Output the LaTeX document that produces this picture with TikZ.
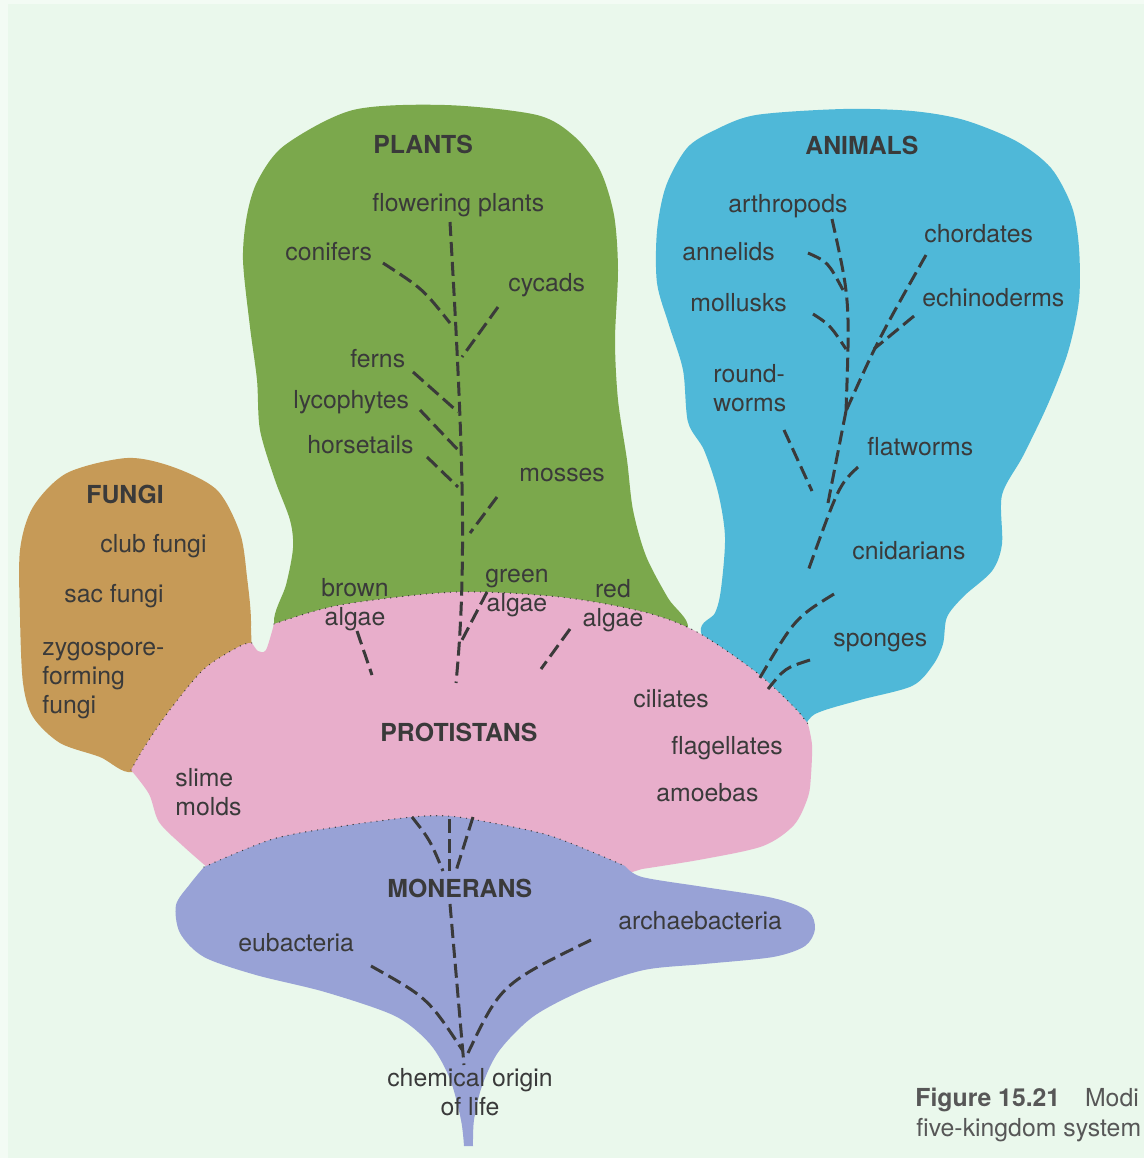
\documentclass[tikz,border=0pt]{standalone}
\usepackage{fontspec}
\setmainfont{TeX Gyre Heros}
\definecolor{bgmint}{HTML}{EAF8EC}
\definecolor{paperedge}{HTML}{F3FBF4}
\definecolor{ink}{HTML}{3A3A3A}
\definecolor{plantgreen}{HTML}{7BA84C}
\definecolor{animalblue}{HTML}{4FB8D8}
\definecolor{fungibrown}{HTML}{C69A57}
\definecolor{protpink}{HTML}{E8AECB}
\definecolor{monblue}{HTML}{98A2D6}
\tikzset{
  lbl/.style={inner sep=0pt, anchor=base west, text=ink, font=\fontsize{12.4pt}{14.5pt}\selectfont},
  kingdom/.style={lbl, font=\fontsize{12.4pt}{14.5pt}\selectfont\bfseries},
  branch/.style={draw=ink, line width=1.5pt, dash pattern=on 7pt off 3pt},
  border/.style={draw=ink, line width=0.7pt, line cap=round, dash pattern=on 0pt off 3pt},
}
\begin{document}
\begin{tikzpicture}[x=0.5pt,y=-0.5pt]
  % page
  \fill[bgmint] (0,0) rectangle (1144,1158);
  \fill[paperedge] (0,0) rectangle (8,1158);
  \fill[paperedge] (0,0) rectangle (1144,4);
  \useasboundingbox (0,0) rectangle (1144,1158);

  % Plants
  \fill[plantgreen] plot[smooth cycle] coordinates {(353,110) (445,105) (537,115) (575,137) (600,170) (614,215) (618,270) (615,340) (618,400) (627,460) (633,510) (646,556) (668,598) (688,628) (660,670) (450,670) (290,665) (274,622) (286,585) (293,548) (290,520) (275,480) (260,430) (257,380) (250,327) (243,260) (247,215) (258,180) (285,145)};

  % Animals
  \fill[animalblue] plot[smooth cycle] coordinates {(715,130) (756,115) (843,109) (912,111) (964,120) (1016,141) (1051,168) (1072,207) (1079,248) (1079,300) (1068,352) (1048,404) (1023,456) (1002,495) (1002,544) (992,571) (964,596) (947,617) (943,644) (933,665) (912,686) (860,700) (815,714) (790,735) (730,690) (701,632) (715,613) (721,589) (725,537) (718,492) (704,450) (688,422) (683,370) (669,325) (657,283) (657,231) (666,186) (687,148)};

  % Fungi
  \fill[fungibrown] plot[smooth cycle] coordinates {(127,458) (173,467) (217,490) (240,533) (247,577) (251,625) (245,680) (180,740) (133,772) (100,757) (60,743) (33,717) (23,683) (20,617) (20,550) (33,507) (67,473)};

  % Protistans
  \fill[protpink] plot[smooth] coordinates {(131,770) (145,746) (169,711) (204,669) (240,646) (252,643)}
    -- plot[smooth] coordinates {(252,643) (258,651) (266,650) (274,624)}
    -- plot[smooth] coordinates {(274,624) (340,605) (455,592) (560,597) (644,612) (697,632) (756,672) (794,707) (808,724)}
    -- plot[smooth] coordinates {(808,724) (812,745) (811,775) (808,797) (794,825) (763,846) (704,859) (642,869)}
    -- (590,885) -- (260,885) -- (215,874)
    -- plot[smooth] coordinates {(215,874) (183,846) (159,822) (149,794) (131,770)} -- cycle;

  % Monerans
  \fill[monblue] plot[smooth] coordinates {(204,867) (273,839) (343,826) (412,817) (447,816) (482,821) (551,836) (625,866)}
    -- plot[smooth] coordinates {(625,866) (642,877) (704,887) (773,898) (808,911) (815,929) (805,946) (773,957) (704,964) (644,970) (586,989) (534,1016) (499,1051) (482,1086) (474,1120) (473,1146)}
    -- (464,1146)
    -- plot[smooth] coordinates {(464,1146) (461,1120) (450,1079) (430,1044) (395,1016) (325,992) (256,975) (204,957) (180,933) (176,905) (190,884) (204,867)} -- cycle;

  % dotted borders
  \draw[border] plot[smooth] coordinates {(131,770) (145,746) (169,711) (204,669) (240,646) (252,643)};
  \draw[border] plot[smooth] coordinates {(274,624) (340,605) (455,592) (560,597) (644,612) (697,632) (756,672) (794,707) (808,724)};
  \draw[border] plot[smooth] coordinates {(204,867) (273,839) (343,826) (412,817) (447,816) (482,821) (551,836) (625,866)};

  % branch points
  \coordinate (pl-top) at (450,222);
  \coordinate (pl-bot) at (456,683);
  \coordinate (con-a) at (383,263);  \coordinate (con-b) at (450,323);
  \coordinate (cyc-a) at (498,307);  \coordinate (cyc-b) at (462,357);
  \coordinate (fer-a) at (413,372);  \coordinate (fer-b) at (458,412);
  \coordinate (lyc-a) at (420,410);  \coordinate (lyc-b) at (460,452);
  \coordinate (hor-a) at (427,457);  \coordinate (hor-b) at (458,487);
  \coordinate (mos-a) at (497,497);  \coordinate (mos-b) at (470,533);
  \coordinate (gal-a) at (487,592);  \coordinate (gal-b) at (462,640);
  \coordinate (bal-a) at (357,631);  \coordinate (bal-b) at (372,675);
  \coordinate (ral-a) at (570,629);  \coordinate (ral-b) at (541,669);
  \coordinate (art-a) at (832,219);  \coordinate (an-join) at (846,411);
  \coordinate (ann-a) at (808,253);  \coordinate (ann-b) at (843,290);
  \coordinate (mol-a) at (813,314);  \coordinate (mol-b) at (846,349);
  \coordinate (cho-a) at (926,255);
  \coordinate (ech-a) at (914,316);  \coordinate (ech-b) at (874,349);
  \coordinate (rnd-a) at (784,430);  \coordinate (rnd-b) at (812,491);
  \coordinate (an-low) at (828,503);
  \coordinate (fla-a) at (858,467);  \coordinate (cni-b) at (808,571);
  \coordinate (spo-a) at (834,594);  \coordinate (spo-b) at (758,681);
  \coordinate (spl-a) at (810,660);  \coordinate (spl-b) at (768,689);
  \coordinate (mo-la) at (412,817);  \coordinate (mo-lb) at (443,871);
  \coordinate (mo-ma) at (449,819);  \coordinate (mo-mb) at (449,871);
  \coordinate (mo-ra) at (473,817);  \coordinate (mo-rb) at (456,871);
  \coordinate (mo-top) at (450,904); \coordinate (origin) at (464,1065);
  \coordinate (eub-a) at (371,966);  \coordinate (eub-b) at (463,1051);
  \coordinate (arc-a) at (591,940);  \coordinate (arc-b) at (468,1053);

  % dashed lineages
  \draw[branch] (pl-top) .. controls (462,430) and (468,560) .. (pl-bot);
  \draw[branch] (con-a) .. controls (423,289) .. (con-b);
  \draw[branch] (art-a) .. controls (850,300) .. (an-join);
  \draw[branch] (cho-a) .. controls (878,340) .. (an-join);
  \draw[branch] (ann-a) .. controls (828,262) .. (ann-b);
  \draw[branch] (mol-a) .. controls (830,325) .. (mol-b);
  \draw[branch] (fla-a) .. controls (839,485) .. (cni-b);
  \draw[branch] (spo-a) .. controls (795,618) .. (spo-b);
  \draw[branch] (spl-a) .. controls (785,668) .. (spl-b);
  \draw[branch] (mo-la) .. controls (430,840) .. (mo-lb);
  \draw[branch] (eub-a) .. controls (428,998) .. (eub-b);
  \draw[branch] (arc-a) .. controls (501,984) .. (arc-b);
  \foreach \p/\q in {cyc-a/cyc-b, fer-a/fer-b, lyc-a/lyc-b, hor-a/hor-b, mos-a/mos-b,
      gal-a/gal-b, bal-a/bal-b, ral-a/ral-b, ech-a/ech-b, rnd-a/rnd-b, an-join/an-low,
      mo-ma/mo-mb, mo-ra/mo-rb, mo-top/origin}
    \draw[branch] (\p) -- (\q);

  % Plants labels
  \node[kingdom] (plants) at (373,153) {PLANTS};
  \node[lbl] (flowering) at (372,211) {flowering plants};
  \node[lbl] (conifers) at (285,260) {conifers};
  \node[lbl] (cycads) at (508,291) {cycads};
  \node[lbl] (ferns) at (350,367) {ferns};
  \node[lbl] (lycophytes) at (293,408) {lycophytes};
  \node[lbl] (horsetails) at (307,453) {horsetails};
  \node[lbl] (mosses) at (519,481) {mosses};
  % two-line labels sit on the baseline of their last line
  \node[lbl, anchor=base, align=center] (brown) at (355,625) {brown\\algae};
  \node[lbl, anchor=base, align=center] (green) at (517,611) {green\\algae};
  \node[lbl, anchor=base, align=center] (red) at (613,626) {red\\algae};

  % Fungi labels
  \node[kingdom] (fungi) at (86,503) {FUNGI};
  \node[lbl] (club) at (100,552) {club fungi};
  \node[lbl] (sac) at (64,602) {sac fungi};
  \node[lbl, align=left] (zygo) at (42,713) {zygospore-\\forming\\fungi};

  % Animals labels
  \node[kingdom] (animals) at (805,154) {ANIMALS};
  \node[lbl] (arthropods) at (728,212) {arthropods};
  \node[lbl] (chordates) at (924,242) {chordates};
  \node[lbl] (annelids) at (682,260) {annelids};
  \node[lbl] (echinoderms) at (922,306) {echinoderms};
  \node[lbl] (mollusks) at (690,311) {mollusks};
  \node[lbl, align=left] (roundworms) at (713,411) {round-\\worms};
  \node[lbl] (flatworms) at (867,455) {flatworms};
  \node[lbl] (cnidarians) at (852,559) {cnidarians};
  \node[lbl] (sponges) at (833,646) {sponges};

  % Protistans labels
  \node[kingdom] (protistans) at (380,741) {PROTISTANS};
  \node[lbl] (ciliates) at (633,707) {ciliates};
  \node[lbl] (flagellates) at (671,754) {flagellates};
  \node[lbl] (amoebas) at (656,801) {amoebas};
  \node[lbl, align=left] (slime) at (175,815) {slime\\molds};

  % Monerans labels
  \node[kingdom] (monerans) at (387,897) {MONERANS};
  \node[lbl] (eubacteria) at (238,951) {eubacteria};
  \node[lbl] (archaebacteria) at (618,929) {archaebacteria};
  \node[lbl, anchor=base, align=center] (chemical) at (470,1115) {chemical origin\\of life};

  % caption
  \node[lbl, text=ink!85] (caption) at (915,1106) {\textbf{Figure 15.21}\quad Modi};
  \node[lbl, text=ink!85] (caption2) at (916,1136) {five-kingdom system};
\end{tikzpicture}
\end{document}
